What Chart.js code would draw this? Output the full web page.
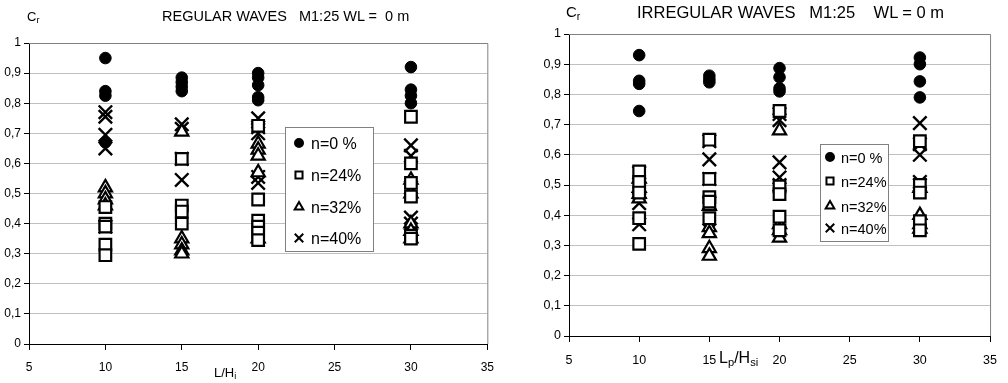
<!DOCTYPE html>
<html>
<head>
<meta charset="utf-8">
<script src="https://cdn.jsdelivr.net/npm/chart.js@4/dist/chart.umd.min.js"></script>
<style>
  html, body { margin: 0; padding: 0; background: #fff; }
  body { width: 1008px; height: 383px; position: relative; overflow: hidden;
         font-family: "Liberation Sans", Arial, sans-serif; color: #000; }
  .panel { position: absolute; top: 0; width: 504px; height: 383px; }
  .txt { position: absolute; white-space: pre; line-height: 1; }
  sub { font-size: 70%; vertical-align: -0.25em; }
</style>
</head>
<body>
<div class="panel" style="left:0"><canvas id="chartReg" width="504" height="383"></canvas></div>
<div class="panel" style="left:504px"><canvas id="chartIrr" width="504" height="383"></canvas></div>

<div class="txt" style="left:27px;top:10px;font-size:13px">C<sub>r</sub></div>
<div class="txt" style="left:162px;top:9px;font-size:14.5px">REGULAR WAVES   M1:25 WL =  0 m</div>
<div class="txt" style="left:214px;top:366px;font-size:13px">L/H<sub>i</sub></div>

<div class="txt" style="left:566px;top:4px;font-size:15px">C<sub>r</sub></div>
<div class="txt" style="left:637px;top:4px;font-size:16.5px">IRREGULAR WAVES   M1:25    WL = 0 m</div>
<div class="txt" style="left:719px;top:350px;font-size:16px">L<sub>p</sub>/H<sub>si</sub></div>

<script>
// --- Datos: columnas L/H y valores Cr por serie (una lista por columna) ---
const xValues = [10, 15, 20, 30];
const seriesLabels = ["n=0 %", "n=24%", "n=32%", "n=40%"];
const yTicks = [0, 0.1, 0.2, 0.3, 0.4, 0.5, 0.6, 0.7, 0.8, 0.9, 1];
const xTicks = [5, 10, 15, 20, 25, 30, 35];

// Regular waves
const regN0 = [[0.95, 0.84, 0.825, 0.67], [0.885, 0.87, 0.855, 0.84], [0.90, 0.885, 0.86, 0.82, 0.81], [0.92, 0.845, 0.825, 0.80]];
const regN24 = [[0.455, 0.40, 0.39, 0.33, 0.295], [0.615, 0.46, 0.44, 0.40], [0.725, 0.48, 0.41, 0.39, 0.37, 0.345], [0.755, 0.60, 0.535, 0.49, 0.36, 0.35]];
const regN32 = [[0.52, 0.50, 0.48, 0.46], [0.705, 0.35, 0.33, 0.31, 0.30], [0.665, 0.645, 0.625, 0.57, 0.35], [0.545, 0.50, 0.40, 0.375, 0.35]];
const regN40 = [[0.77, 0.755, 0.695, 0.65, 0.39], [0.73, 0.715, 0.615, 0.545], [0.75, 0.72, 0.70, 0.555, 0.535], [0.66, 0.625, 0.52, 0.42, 0.40]];

// Irregular waves
const irrN0 = [[0.93, 0.845, 0.835, 0.745], [0.862, 0.85, 0.84], [0.887, 0.857, 0.82, 0.81], [0.922, 0.90, 0.843, 0.79]];
const irrN24 = [[0.545, 0.51, 0.475, 0.39, 0.305], [0.65, 0.52, 0.46, 0.445, 0.39], [0.745, 0.495, 0.47, 0.395, 0.35], [0.645, 0.50, 0.475, 0.38, 0.35]];
const irrN32 = [[0.52, 0.49, 0.47, 0.455], [0.43, 0.36, 0.34, 0.29, 0.265], [0.68, 0.37, 0.35, 0.325], [0.49, 0.40, 0.37, 0.355]];
const irrN40 = [[0.54, 0.49, 0.44, 0.37], [0.645, 0.585, 0.52, 0.44, 0.35], [0.735, 0.715, 0.575, 0.525, 0.50], [0.705, 0.635, 0.60, 0.51, 0.50]];

// --- estilos de marcador por serie ---
const markerStyles = [
  { pointStyle: "circle", radius: 5.8, bg: "#000", bw: 1, legendRadius: 4 },
  { pointStyle: "rect", radius: 8.2, bg: "#fff", bw: 2.2, legendRadius: 5 },
  { pointStyle: "triangle", radius: 7.6, bg: "#fff", bw: 2.2, legendRadius: 5 },
  { pointStyle: "crossRot", radius: 9.5, bg: "#fff", bw: 2.4, legendRadius: 6 },
];

function toPoints(cols) {
  const pts = [];
  cols.forEach((vals, i) => vals.forEach((v) => pts.push({ x: xValues[i], y: v })));
  return pts;
}

function buildDatasets(all) {
  return all.map((cols, i) => {
    const m = markerStyles[i];
    return {
      label: seriesLabels[i],
      data: toPoints(cols),
      showLine: false,
      pointStyle: m.pointStyle,
      pointRadius: m.radius,
      pointHoverRadius: m.radius,
      pointBackgroundColor: m.bg,
      pointBorderColor: "#000",
      pointBorderWidth: m.bw,
    };
  });
}

const fmtTick = (v) => {
  const r = Math.round(v * 10) / 10;
  if (r === 0 || r === 1) return String(r);
  return r.toFixed(1).replace(".", ",");
};

// marco gris (arriba y derecha) + leyenda dentro del área
const framePlugin = {
  id: "frameLegend",
  afterDraw(chart, args, opts) {
    const { ctx, chartArea } = chart;
    ctx.save();
    ctx.strokeStyle = "#808080";
    ctx.lineWidth = 1;
    ctx.beginPath();
    ctx.moveTo(chartArea.left, chartArea.top + 0.5);
    ctx.lineTo(chartArea.right + 0.5, chartArea.top + 0.5);
    ctx.lineTo(chartArea.right + 0.5, chartArea.bottom);
    ctx.stroke();

    const lg = opts.box;
    if (lg) {
      ctx.fillStyle = "#fff";
      ctx.fillRect(lg.x, lg.y, lg.w, lg.h);
      ctx.strokeStyle = "#808080";
      ctx.lineWidth = 1;
      ctx.strokeRect(lg.x + 0.5, lg.y + 0.5, lg.w, lg.h);
      ctx.font = lg.font + "px 'Liberation Sans', Arial, sans-serif";
      ctx.textBaseline = "middle";
      chart.data.datasets.forEach((ds, i) => {
        const m = markerStyles[i];
        const cy = lg.rows[i];
        ctx.fillStyle = m.bg;
        ctx.strokeStyle = "#000";
        ctx.lineWidth = 2;
        Chart.helpers.drawPoint(ctx, { pointStyle: m.pointStyle, radius: m.legendRadius, rotation: 0, borderWidth: 2 }, lg.mx, cy);
        ctx.fillStyle = "#000";
        ctx.fillText(ds.label, lg.tx, cy + 2);
      });
    }
    ctx.restore();
  },
};

function makeChart(id, all, geom) {
  const ctx = document.getElementById(id);
  return new Chart(ctx, {
    type: "scatter",
    data: { datasets: buildDatasets(all) },
    plugins: [framePlugin],
    options: {
      responsive: false,
      animation: false,
      events: [],
      layout: { padding: { top: geom.top, right: geom.right, left: 0, bottom: 0 } },
      plugins: {
        legend: { display: false },
        tooltip: { enabled: false },
        frameLegend: { box: geom.legend },
      },
      scales: {
        x: {
          type: "linear",
          min: 5,
          max: 35,
          afterBuildTicks: (s) => { s.ticks = xTicks.map((v) => ({ value: v })); },
          afterFit: (s) => { s.height = geom.xh; },
          ticks: { color: "#000", font: { size: geom.tickFont, family: "'Liberation Sans', Arial" }, padding: geom.xpad, maxRotation: 0 },
          grid: { drawOnChartArea: false, drawTicks: true, tickLength: 6, tickColor: "#000" },
          border: { color: "#000", width: 1 },
        },
        y: {
          type: "linear",
          min: 0,
          max: 1,
          afterBuildTicks: (s) => { s.ticks = yTicks.map((v) => ({ value: v })); },
          afterFit: (s) => { s.width = geom.yw; },
          ticks: { color: "#000", font: { size: geom.tickFont, family: "'Liberation Sans', Arial" }, padding: geom.ypad, callback: fmtTick },
          grid: { color: "#c0c0c0", drawTicks: true, tickLength: 5, tickColor: "#000" },
          border: { color: "#000", width: 1 },
        },
      },
    },
  });
}

makeChart("chartReg", [regN0, regN24, regN32, regN40], {
  top: 43, right: 14, yw: 29, xh: 39, tickFont: 12, xpad: 10, ypad: 3,
  legend: { x: 285, y: 127, w: 88, h: 124, mx: 299, tx: 311, font: 16, rows: [143, 175, 207, 238] },
});

makeChart("chartIrr", [irrN0, irrN24, irrN32, irrN40], {
  top: 34, right: 16, yw: 65, xh: 47, tickFont: 12.5, xpad: 11, ypad: 3,
  legend: { x: 316, y: 144, w: 68, h: 97, mx: 326, tx: 337, font: 14.5, rows: [157, 181, 206, 228] },
});
</script>
</body>
</html>
